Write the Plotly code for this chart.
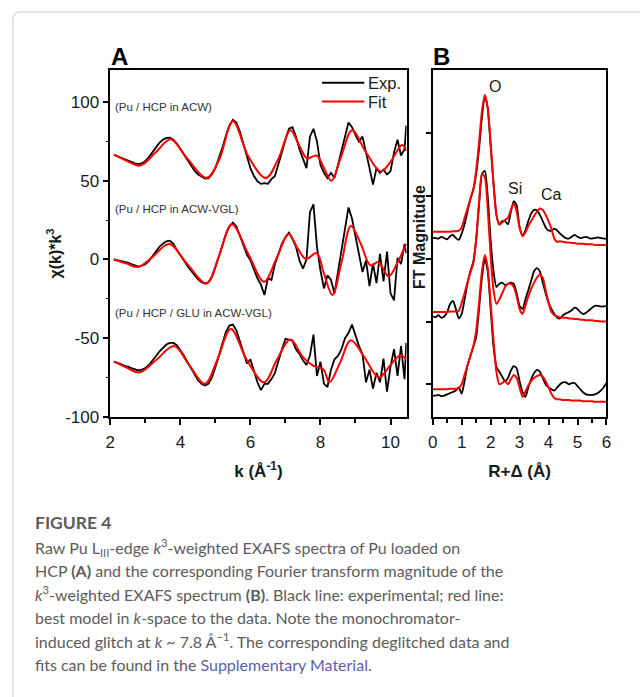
import plotly.graph_objects as go

# ---------------- Panel A data ----------------
k_exp = [2.1, 2.2, 2.3, 2.4, 2.5, 2.6, 2.7, 2.8, 2.9, 3.0,
         3.1, 3.2, 3.3, 3.4, 3.5, 3.6, 3.7, 3.8, 3.9, 4.0,
         4.1, 4.2, 4.3, 4.4, 4.5, 4.6, 4.7, 4.8, 4.9, 5.0,
         5.1, 5.2, 5.3, 5.4, 5.5, 5.6, 5.7, 5.8, 5.9, 6.0,
         6.1, 6.2, 6.3, 6.4, 6.5, 6.6, 6.7, 6.8, 6.9, 7.0,
         7.1, 7.2, 7.3, 7.4, 7.5, 7.6, 7.7, 7.8, 7.9, 8.0,
         8.1, 8.2, 8.3, 8.4, 8.5, 8.6, 8.7, 8.8, 8.9, 9.0,
         9.1, 9.2, 9.3, 9.4, 9.5, 9.6, 9.7, 9.8, 9.9, 10.0,
         10.1, 10.2, 10.3, 10.4, 10.45]

exp_acw = [66.5, 65.5, 64.5, 63.5, 62.8, 62.0, 61.0, 60.5, 61.0, 62.5,
           65.0, 68.0, 71.0, 74.0, 76.0, 77.2, 77.4, 76.0, 73.5, 70.0,
           66.5, 63.0, 59.5, 56.5, 54.0, 52.5, 51.3, 51.5, 54.0, 58.0,
           64.0, 71.0, 78.5, 85.0, 88.7, 87.0, 81.0, 73.0, 65.0, 58.0,
           53.0, 49.6, 48.0, 48.5, 48.0, 51.0, 53.0, 60.0, 68.0, 76.0,
           83.0, 84.0, 78.0, 70.0, 64.0, 58.0, 78.0, 83.0, 75.0, 60.0,
           55.0, 51.7, 55.0, 51.7, 60.0, 70.0, 78.0, 87.0, 84.0, 79.0,
           74.7, 78.0, 67.0, 58.0, 47.5, 58.0, 55.0, 57.0, 54.0, 56.0,
           68.0, 76.0, 66.0, 70.0, 85.0]

exp_vgl = [0.0, -0.5, -1.0, -1.5, -2.0, -3.0, -4.0, -4.5, -4.0, -3.0,
           -1.0, 2.0, 5.0, 8.0, 10.0, 11.5, 11.9, 10.0, 6.0, 2.5,
           -1.0, -4.0, -7.0, -10.0, -12.5, -14.5, -15.3, -14.5, -11.0, -5.0,
           2.0, 9.0, 16.0, 21.0, 23.4, 21.0, 15.0, 8.0, 3.0, -0.6,
           -6.0, -12.0, -16.0, -22.6, -12.0, -13.0, -3.0, 4.0, 10.0, 14.0,
           17.0, 13.0, 8.0, -0.6, -5.9, 0.0, 30.0, 35.0, 8.0, -7.0,
           -18.4, -10.0, -13.0, -21.5, -8.0, 5.0, 20.0, 33.0, 26.0, 14.0,
           4.0, -8.0, -0.6, -17.0, -2.7, -15.0, 3.6, -14.0, 5.0, -21.5,
           -26.0, 1.0, -3.0, 9.8, 4.0]

exp_glu = [-64.8, -65.5, -66.5, -67.5, -68.0, -69.0, -70.0, -70.5, -70.0, -69.0,
           -67.0, -64.5, -61.5, -58.5, -56.0, -54.0, -53.0, -53.0, -54.5, -57.5,
           -61.0, -65.0, -69.0, -73.0, -76.5, -79.0, -80.0, -79.0, -75.0, -68.5,
           -61.0, -53.0, -46.0, -42.0, -41.4, -45.0, -52.0, -60.0, -66.0, -63.5,
           -71.0, -78.0, -83.0, -79.0, -79.0, -76.0, -72.0, -64.0, -57.0, -50.4,
           -51.0, -51.5, -57.0, -60.0, -64.0, -67.0, -61.0, -47.7, -74.0, -65.0,
           -79.0, -81.0, -70.0, -63.4, -61.3, -57.0, -50.0, -46.7, -41.4, -49.0,
           -55.0, -60.0, -78.0, -70.0, -82.0, -72.0, -78.0, -63.0, -84.0, -68.0,
           -57.0, -74.0, -55.0, -76.0, -53.0]

k_fit_acw = [2.1, 2.5, 2.85, 3.3, 3.72, 4.2, 4.75, 5.1, 5.5, 5.95, 6.44, 6.8, 7.14,
             7.4, 7.62, 7.89, 8.1, 8.31, 8.6, 8.9, 9.3, 9.72, 10.0, 10.33, 10.45]
fit_acw = [66.5, 62.3, 59.6, 68.0, 76.4, 64.0, 51.7, 63.0, 87.7, 65.0, 51.7, 64.0, 82.0,
           72.0, 64.2, 66.0, 58.0, 50.0, 66.0, 82.0, 68.0, 55.9, 62.0, 72.6, 69.0]

k_fit_vgl = [2.1, 2.45, 2.8, 3.2, 3.68, 4.2, 4.75, 5.1, 5.47, 5.95, 6.39, 6.75, 7.09,
             7.35, 7.58, 7.89, 8.1, 8.34, 8.6, 8.87, 9.15, 9.43, 9.65, 9.95, 10.2, 10.45]
fit_vgl = [0.0, -2.5, -4.8, 1.5, 9.8, -3.0, -15.3, 2.0, 22.4, 3.0, -14.2, 1.0, 16.1,
           7.0, 0.4, 4.0, -9.0, -22.6, -2.0, 21.3, 10.0, -3.8, -1.7, -10.7, -2.0, 10.0]

k_fit_glu = [2.1, 2.45, 2.83, 3.3, 3.82, 4.25, 4.7, 5.05, 5.44, 5.9, 6.39, 6.75, 7.14,
             7.5, 7.8, 8.08, 8.26, 8.55, 8.87, 9.25, 9.67, 10.0, 10.28, 10.45]
fit_glu = [-64.9, -68.5, -71.8, -64.0, -55.0, -67.0, -79.0, -64.0, -44.1, -64.0, -78.0, -64.0, -50.8,
           -62.0, -67.6, -69.7, -78.0, -66.0, -51.3, -62.0, -74.9, -67.0, -60.9, -63.4]

sample_labels = ["(Pu / HCP in ACW)", "(Pu / HCP in ACW-VGL)", "(Pu / HCP / GLU in ACW-VGL)"]
sample_label_y = [96.9, 31.8, -34.0]

ytick_vals_A = [-100, -50, 0, 50, 100]
ytick_text_A = ["-100", "-50", "0", "50", "100"]

# ---------------- Panel B data ----------------
R = [0.0, 0.1, 0.2, 0.3, 0.4, 0.5, 0.6, 0.7, 0.8, 0.9,
     1.0, 1.1, 1.2, 1.3, 1.4, 1.5, 1.6, 1.7, 1.8, 1.9,
     2.0, 2.1, 2.2, 2.3, 2.4, 2.5, 2.6, 2.7, 2.8, 2.9,
     3.0, 3.1, 3.2, 3.3, 3.4, 3.5, 3.6, 3.7, 3.8, 3.9,
     4.0, 4.1, 4.2, 4.3, 4.4, 4.5, 4.6, 4.7, 4.8, 4.9,
     5.0, 5.1, 5.2, 5.3, 5.4, 5.5, 5.6, 5.7, 5.8, 5.9, 6.0]

ft_exp_acw = [2.33, 2.33, 2.32, 2.35, 2.33, 2.31, 2.36, 2.38, 2.33, 2.30,
              2.40, 2.55, 2.75, 2.95, 3.10, 3.35, 3.75, 4.25, 4.60, 4.40,
              3.80, 3.20, 2.70, 2.55, 2.60, 2.60, 2.55, 2.75, 2.92, 2.85,
              2.50, 2.38, 2.45, 2.60, 2.72, 2.78, 2.77, 2.70, 2.60, 2.50,
              2.45, 2.45, 2.48, 2.45, 2.40, 2.36, 2.33, 2.32, 2.35, 2.38,
              2.35, 2.33, 2.34, 2.35, 2.33, 2.32, 2.33, 2.34, 2.33, 2.32, 2.32]
ft_fit_acw = [2.43, 2.43, 2.43, 2.43, 2.43, 2.43, 2.43, 2.44, 2.44, 2.45,
              2.50, 2.65, 2.80, 2.95, 3.10, 3.40, 3.85, 4.35, 4.61, 4.40,
              3.85, 3.20, 2.70, 2.54, 2.58, 2.62, 2.65, 2.78, 2.88, 2.75,
              2.50, 2.36, 2.42, 2.52, 2.60, 2.68, 2.75, 2.80, 2.78, 2.70,
              2.60, 2.48, 2.32, 2.27, 2.28, 2.27, 2.26, 2.26, 2.25, 2.25,
              2.24, 2.24, 2.24, 2.23, 2.23, 2.23, 2.22, 2.22, 2.22, 2.22, 2.22]

ft_exp_vgl = [1.08, 1.07, 1.10, 1.06, 1.08, 1.15, 1.28, 1.33, 1.20, 1.05,
              1.12, 1.35, 1.60, 1.80, 1.95, 2.30, 2.85, 3.35, 3.40, 3.00,
              2.30, 1.80, 1.55, 1.60, 1.62, 1.58, 1.60, 1.62, 1.60, 1.45,
              1.25, 1.20, 1.35, 1.50, 1.65, 1.80, 1.85, 1.80, 1.62, 1.45,
              1.30, 1.20, 1.12, 1.06, 1.05, 1.10, 1.13, 1.15, 1.18, 1.22,
              1.20, 1.15, 1.12, 1.14, 1.18, 1.22, 1.25, 1.25, 1.24, 1.24, 1.25]
ft_fit_vgl = [1.15, 1.15, 1.15, 1.15, 1.15, 1.15, 1.16, 1.16, 1.16, 1.17,
              1.30, 1.45, 1.62, 1.78, 1.92, 2.30, 2.90, 3.35, 3.30, 2.80,
              2.05, 1.50, 1.28, 1.35, 1.45, 1.55, 1.60, 1.60, 1.55, 1.40,
              1.20, 1.12, 1.25, 1.40, 1.52, 1.62, 1.70, 1.75, 1.70, 1.50,
              1.30, 1.15, 1.10, 1.08, 1.07, 1.06, 1.06, 1.05, 1.05, 1.04,
              1.04, 1.03, 1.03, 1.02, 1.02, 1.02, 1.01, 1.01, 1.00, 1.00, 1.00]

ft_exp_glu = [-0.18, -0.18, -0.17, -0.19, -0.18, -0.16, -0.14, -0.12, -0.10, -0.05,
              -0.15, 0.05, 0.30, 0.45, 0.60, 0.75, 1.20, 1.70, 2.00, 1.80,
              1.20, 0.60, 0.28, 0.20, 0.12, 0.05, 0.10, 0.22, 0.29, 0.25,
              0.05, -0.12, -0.20, -0.05, 0.08, 0.18, 0.23, 0.20, 0.10, 0.00,
              -0.05, -0.08, -0.10, -0.05, 0.00, 0.03, 0.03, 0.00, 0.02, 0.02,
              -0.03, -0.08, -0.13, -0.16, -0.17, -0.17, -0.16, -0.14, -0.10, -0.05, 0.02]
ft_fit_glu = [-0.08, -0.08, -0.08, -0.08, -0.08, -0.08, -0.07, -0.07, -0.07, -0.06,
              0.00, 0.15, 0.30, 0.45, 0.60, 0.85, 1.30, 1.80, 2.06, 1.85,
              1.30, 0.70, 0.20, 0.00, 0.02, 0.05, 0.00, 0.08, 0.15, 0.10,
              -0.05, -0.20, -0.12, -0.02, 0.05, 0.10, 0.13, 0.15, 0.12, 0.05,
              -0.05, -0.15, -0.22, -0.24, -0.24, -0.25, -0.25, -0.25, -0.26, -0.26,
              -0.26, -0.26, -0.27, -0.27, -0.27, -0.27, -0.28, -0.28, -0.28, -0.28, -0.28]

peak_labels = ["O", "Si", "Ca"]
peak_label_R = [2.15, 2.83, 4.1]
peak_label_u = [4.74, 3.12, 3.03]

legend_names = ["Exp.", "Fit"]

caption_lines = [
    "<b>FIGURE 4</b>",
    "Raw Pu L<sub>III</sub>-edge <i>k</i><sup>3</sup>-weighted EXAFS spectra of Pu loaded on",
    "HCP <b>(A)</b> and the corresponding Fourier transform magnitude of the",
    "<i>k</i><sup>3</sup>-weighted EXAFS spectrum <b>(B)</b>. Black line: experimental; red line:",
    "best model in <i>k</i>-space to the data. Note the monochromator-",
    "induced glitch at <i>k</i> ~ 7.8 Å<sup>−1</sup>. The corresponding deglitched data and",
    "fits can be found in the <span style='color:#5a5fae'>Supplementary Material</span>.",
]

# ---------------- Figure ----------------
W, H = 640, 697
def px(x):
    return x / W
def py(y):
    return 1 - y / H

FONT = "Liberation Sans, Arial, sans-serif"
CAPFONT = "Lato, Noto Sans, sans-serif"
BLACK = "#000000"
RED = "#ff0000"
TXT = "#1a1a1a"

fig = go.Figure()

exp_sets = [exp_acw, exp_vgl, exp_glu]
fit_sets = [(k_fit_acw, fit_acw), (k_fit_vgl, fit_vgl), (k_fit_glu, fit_glu)]
for i in range(3):
    fig.add_trace(go.Scatter(x=k_exp, y=exp_sets[i], mode="lines",
                             line=dict(color=BLACK, width=1.8),
                             name="Exp.", showlegend=False,
                             xaxis="x", yaxis="y"))
for i in range(3):
    kf, vf = fit_sets[i]
    fig.add_trace(go.Scatter(x=kf, y=vf, mode="lines",
                             line=dict(color=RED, width=2, shape="spline", smoothing=1.0),
                             name="Fit", showlegend=False,
                             xaxis="x", yaxis="y"))

ft_pairs = [(ft_exp_acw, ft_fit_acw), (ft_exp_vgl, ft_fit_vgl), (ft_exp_glu, ft_fit_glu)]
for e, f in ft_pairs:
    fig.add_trace(go.Scatter(x=R, y=e, mode="lines",
                             line=dict(color=BLACK, width=1.8, shape="spline", smoothing=0.6),
                             showlegend=False, xaxis="x2", yaxis="y2"))
    fig.add_trace(go.Scatter(x=R, y=f, mode="lines",
                             line=dict(color=RED, width=2, shape="spline", smoothing=0.6),
                             showlegend=False, xaxis="x2", yaxis="y2"))

axis_common = dict(showline=True, linecolor=BLACK, linewidth=1.5, mirror=True,
                   showgrid=False, zeroline=False, ticks="outside", tickcolor=BLACK,
                   tickwidth=1.5, tickfont=dict(family=FONT, size=17, color=TXT))

fig.update_layout(
    width=W, height=H,
    margin=dict(l=0, r=0, t=0, b=0),
    paper_bgcolor="white", plot_bgcolor="white",
    font=dict(family=FONT, color=TXT),
    showlegend=False,
    xaxis=dict(domain=[px(107), px(408)], range=[2, 10.46], tickvals=[2, 4, 6, 8, 10],
               ticklen=6, ticklabelstandoff=3,
               minor=dict(dtick=1, tick0=2, ticks="outside", ticklen=4,
                          tickcolor=BLACK, tickwidth=1.5),
               title=dict(text="<b>k (Å<sup>-1</sup>)</b>", font=dict(family=FONT, size=17),
                          standoff=14),
               anchor="y", **axis_common),
    yaxis=dict(domain=[py(423), py(71.5)], range=[-100, 120],
               tickvals=ytick_vals_A, ticktext=ytick_text_A,
               ticklen=6, minor=dict(dtick=25, tick0=0, ticks="outside", ticklen=3,
                                     tickcolor=BLACK, tickwidth=1.2),
               anchor="x", **axis_common),
    xaxis2=dict(domain=[px(434.5), px(611)], range=[0, 6], tickvals=[0, 1, 2, 3, 4, 5, 6],
                ticklen=6, ticklabelstandoff=3,
                minor=dict(dtick=0.5, tick0=0, ticks="outside", ticklen=4,
                           tickcolor=BLACK, tickwidth=1.5),
                title=dict(text="<b>R+Δ (Å)</b>", font=dict(family=FONT, size=17), standoff=14),
                anchor="y2", **axis_common),
    yaxis2=dict(domain=[py(423), py(71.5)], range=[-0.52, 5.0], tickvals=[0, 1, 2, 3, 4],
                showticklabels=False, ticklen=5,
                anchor="x2", **axis_common),
)

annotations = []
# panel letters
annotations.append(dict(text="<b>A</b>", x=px(106), y=py(57), xref="paper", yref="paper",
                        xanchor="left", yanchor="middle", showarrow=False,
                        font=dict(family=FONT, size=24, color=BLACK)))
annotations.append(dict(text="<b>B</b>", x=px(433), y=py(57), xref="paper", yref="paper",
                        xanchor="left", yanchor="middle", showarrow=False,
                        font=dict(family=FONT, size=24, color=BLACK)))
# y-axis titles
annotations.append(dict(text="<b>χ(k)*k<sup>3</sup></b>", x=px(50), y=py(257), xref="paper",
                        yref="paper", xanchor="center", yanchor="middle", showarrow=False,
                        textangle=-90, font=dict(family=FONT, size=16, color=TXT)))
annotations.append(dict(text="<b>FT Magnitude</b>", x=px(421), y=py(240), xref="paper",
                        yref="paper", xanchor="center", yanchor="middle", showarrow=False,
                        textangle=-90, font=dict(family=FONT, size=16, color=TXT)))
# legend (manual)
leg_y = [84, 103]
leg_col = [BLACK, RED]
for name, yy, col in zip(legend_names, leg_y, leg_col):
    annotations.append(dict(text=name, x=px(367), y=py(yy), xref="paper", yref="paper",
                            xanchor="left", yanchor="middle", showarrow=False,
                            font=dict(family=FONT, size=16.5, color=TXT)))
# sample labels (data coords)
for t, yv in zip(sample_labels, sample_label_y):
    annotations.append(dict(text=t, x=2.07, y=yv, xref="x", yref="y",
                            xanchor="left", yanchor="middle", showarrow=False,
                            font=dict(family=FONT, size=11.5, color="#333333")))
# peak labels
for t, xv, yv in zip(peak_labels, peak_label_R, peak_label_u):
    annotations.append(dict(text=t, x=xv, y=yv, xref="x2", yref="y2",
                            xanchor="center", yanchor="middle", showarrow=False,
                            font=dict(family=FONT, size=16, color=TXT)))
# caption
cap_y = [530, 555, 579, 602, 626, 650, 674]
for i, (t, yy) in enumerate(zip(caption_lines, cap_y)):
    annotations.append(dict(text=t, x=px(28), y=py(yy), xref="paper", yref="paper",
                            xanchor="left", yanchor="middle", showarrow=False, align="left",
                            font=dict(family=CAPFONT, size=17.5 if i == 0 else 16,
                                      color="#5c5c5c")))
fig.update_layout(annotations=annotations)

# legend sample lines
for yy, col in zip(leg_y, leg_col):
    fig.add_shape(type="line", x0=px(322), x1=px(365), y0=py(yy), y1=py(yy),
                  xref="paper", yref="paper", line=dict(color=col, width=2))

# light frame around the figure card
fig.add_shape(type="path",
              path=f"M {px(8)},{py(720)} L {px(8)},{py(20)} Q {px(8)},{py(12)} {px(16)},{py(12)} L {px(660)},{py(12)}",
              xref="paper", yref="paper", line=dict(color="#d4d4d4", width=1.2))

fig.write_html("out.html")
